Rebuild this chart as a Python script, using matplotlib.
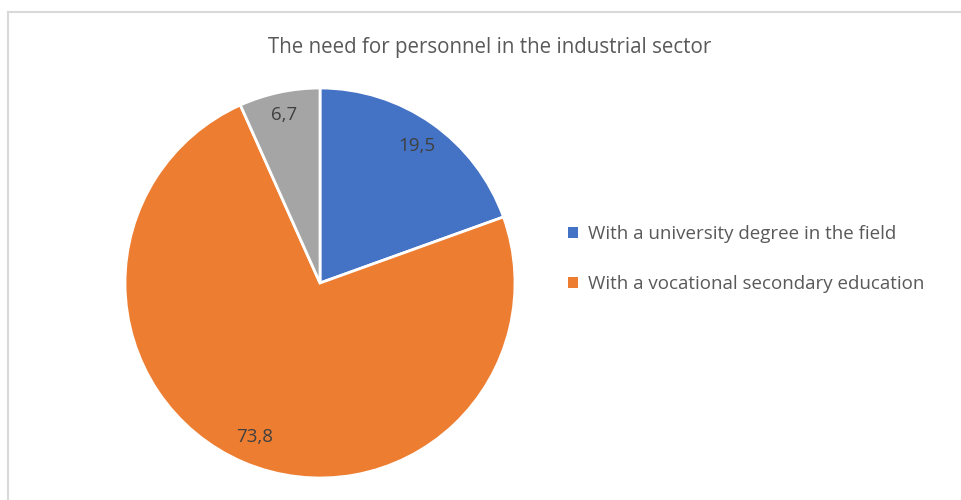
import matplotlib
matplotlib.use("Agg")
import matplotlib.pyplot as plt
from matplotlib.lines import Line2D
from matplotlib.patches import Patch
import numpy as np

title = "The need for personnel in the industrial sector"
categories = ["With a university degree in the field",
              "With a vocational secondary education",
              "Other"]
values = [19.5, 73.8, 6.7]
value_labels = ["19,5", "73,8", "6,7"]
colors = ["#4472C4", "#ED7D31", "#A5A5A5"]
legend_count = 2

plt.rcParams['font.family'] = ['Open Sans', 'DejaVu Sans']
text_color = "#595959"

fig = plt.figure(figsize=(9.61, 5.0), dpi=100)
ax = fig.add_axes([0.130, 0.044, 0.406, 0.78])
wedges, _ = ax.pie(values, colors=colors, startangle=90, counterclock=False,
                   wedgeprops=dict(edgecolor="white", linewidth=2.0),
                   radius=1.0)
ax.set_xlim(-1, 1)
ax.set_ylim(-1, 1)
ax.set_aspect("equal")

# data labels
total = sum(values)
cum = 0
dists = [0.86, 0.86, 0.88]
for v, lab, d in zip(values, value_labels, dists):
    mid = 90 - (cum + v / 2) / total * 360
    cum += v
    x = d * np.cos(np.radians(mid))
    y = d * np.sin(np.radians(mid))
    ax.text(x, y, lab, ha="center", va="center", fontsize=13.5, color="#404040")

fig.text(0.51, 0.905, title, ha="center", va="center", fontsize=14.8, color=text_color)

handles = [Patch(facecolor=colors[i], edgecolor="none") for i in range(legend_count)]
leg = fig.legend(handles, categories[:legend_count], loc="center left",
                 bbox_to_anchor=(0.574, 0.482), frameon=False, fontsize=13.5,
                 handlelength=0.5, handleheight=0.5, handletextpad=0.55,
                 labelspacing=1.72, labelcolor=text_color)

# chart-area border (top and left visible)
fig.add_artist(Line2D([8/961, 1.0], [1 - 12/500, 1 - 12/500], color="#D9D9D9", lw=1.5,
                      transform=fig.transFigure))
fig.add_artist(Line2D([8/961, 8/961], [0, 1 - 12/500], color="#D9D9D9", lw=1.5,
                      transform=fig.transFigure))

fig.savefig("out.png", dpi=100, facecolor="white")
